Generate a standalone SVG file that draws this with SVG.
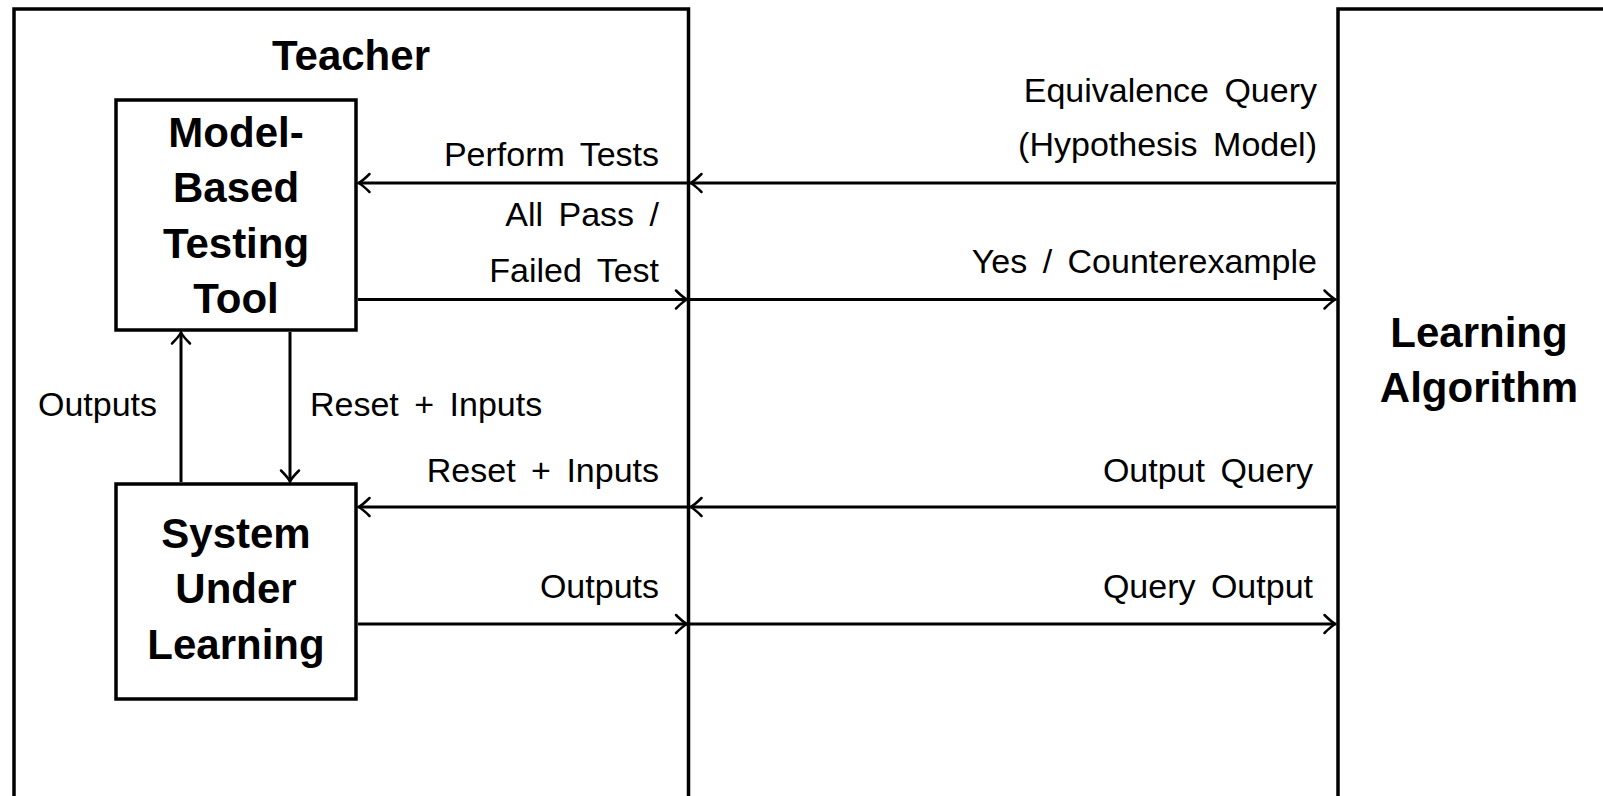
<svg xmlns="http://www.w3.org/2000/svg" width="1603" height="796" viewBox="0 0 1603 796">
  <style>
    .box { fill: none; stroke: #000; stroke-width: 3.5; }
    .title { font-family: "Liberation Sans", Arial, sans-serif; font-weight: bold; font-size: 42px; fill: #000; text-anchor: middle; }
    .lbl { font-family: "Liberation Sans", Arial, sans-serif; font-size: 34px; fill: #000; word-spacing: 6px; }
    .r { text-anchor: end; }
    .conn { fill: none; stroke: #000; stroke-width: 3; }
  </style>
  <defs>
    <marker id="arr" markerUnits="userSpaceOnUse" orient="auto" markerWidth="30" markerHeight="30" viewBox="-15 -15 30 30" refX="0" refY="0" overflow="visible">
      <path d="M -11 -9 Q -4 -2 0 0 Q -4 2 -11 9" fill="none" stroke="#000" stroke-width="2.5" stroke-linecap="round"/>
    </marker>
  </defs>
  <rect width="1603" height="796" fill="#fff"/>

  <g id="teacher">
    <rect class="box" x="14" y="9" width="674.5" height="820"/>
    <text class="title" x="351" y="70">Teacher</text>
  </g>

  <g id="learning-algorithm">
    <rect class="box" x="1338" y="9" width="320" height="820"/>
    <text class="title" x="1479" y="347">Learning</text>
    <text class="title" x="1479" y="402">Algorithm</text>
  </g>

  <g id="mbt-tool">
    <rect class="box" x="116" y="100" width="240" height="230"/>
    <text class="title" x="236" y="147">Model-</text>
    <text class="title" x="236" y="202">Based</text>
    <text class="title" x="236" y="258">Testing</text>
    <text class="title" x="236" y="313">Tool</text>
  </g>

  <g id="sul">
    <rect class="box" x="116" y="484" width="240" height="215"/>
    <text class="title" x="236" y="548">System</text>
    <text class="title" x="236" y="603">Under</text>
    <text class="title" x="236" y="659">Learning</text>
  </g>

  <g id="connectors">
    <line class="conn" x1="1336" y1="183" x2="690.5" y2="183" marker-end="url(#arr)"/>
    <line class="conn" x1="688" y1="183" x2="358.5" y2="183" marker-end="url(#arr)"/>
    <line class="conn" x1="358" y1="299.5" x2="687" y2="299.5" marker-end="url(#arr)"/>
    <line class="conn" x1="690" y1="299.5" x2="1335.5" y2="299.5" marker-end="url(#arr)"/>
    <line class="conn" x1="1336" y1="507" x2="690.5" y2="507" marker-end="url(#arr)"/>
    <line class="conn" x1="688" y1="507" x2="358.5" y2="507" marker-end="url(#arr)"/>
    <line class="conn" x1="358" y1="624" x2="687" y2="624" marker-end="url(#arr)"/>
    <line class="conn" x1="690" y1="624" x2="1335.5" y2="624" marker-end="url(#arr)"/>
    <line class="conn" x1="181" y1="482" x2="181" y2="332.5" marker-end="url(#arr)"/>
    <line class="conn" x1="290" y1="332" x2="290" y2="481.5" marker-end="url(#arr)"/>

    <text class="lbl r" x="659" y="166">Perform Tests</text>
    <text class="lbl r" x="659" y="226">All Pass /</text>
    <text class="lbl r" x="659" y="282">Failed Test</text>
    <text class="lbl r" x="1317" y="102">Equivalence Query</text>
    <text class="lbl r" x="1317" y="156">(Hypothesis Model)</text>
    <text class="lbl r" x="1317" y="273">Yes / Counterexample</text>
    <text class="lbl" x="38" y="416">Outputs</text>
    <text class="lbl" x="310" y="416">Reset + Inputs</text>
    <text class="lbl r" x="659" y="482">Reset + Inputs</text>
    <text class="lbl r" x="659" y="598">Outputs</text>
    <text class="lbl r" x="1313" y="482">Output Query</text>
    <text class="lbl r" x="1313" y="598">Query Output</text>
  </g>
</svg>
